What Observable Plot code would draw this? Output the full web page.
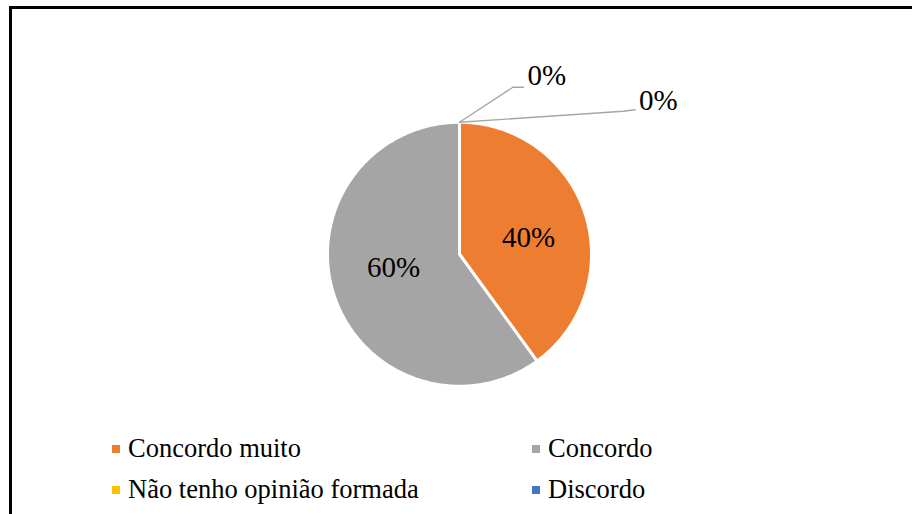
<!DOCTYPE html>
<html>
<head>
<meta charset="utf-8">
<script src="https://cdn.jsdelivr.net/npm/d3@7"></script>
<script src="https://cdn.jsdelivr.net/npm/@observablehq/plot@0.6"></script>
<style>
  html, body { margin: 0; padding: 0; background: #fff; }
  #page { position: relative; width: 912px; height: 514px; overflow: hidden; }
  .edge { position: absolute; background: #000; }
  #chart { position: absolute; left: 0; top: 0; }
  #legend { position: absolute; left: 0; top: 428px; width: 912px; height: 86px;
            font-family: 'Liberation Serif', serif; font-size: 26.5px; line-height: 41px; color: #000; }
  .item { position: absolute; white-space: nowrap; }
  .sw { display: inline-block; width: 8px; height: 8px; margin-right: 8px; vertical-align: 4.5px; }
</style>
</head>
<body>
<div id="page">
  <div id="chart"></div>
  <div id="legend"></div>
  <div class="edge" style="left:9px;top:6px;width:903px;height:3px"></div>
  <div class="edge" style="left:9px;top:6px;width:3px;height:508px"></div>
</div>
<script>
// Survey answers and their share of respondents (%)
const categories = ["Concordo muito", "Concordo", "Não tenho opinião formada", "Discordo"];
const shares = [40, 60, 0, 0];
const colors = ["#ED7D31", "#A5A5A5", "#FFC000", "#4472C4"];

// Drawing area and pie geometry (pixels)
const W = 912, H = 425;
const cx = 459, cy = 253.75, R = 132;

// Slices run clockwise from 12 o'clock; coordinates are in units of the radius
const total = d3.sum(shares);
let acc = 0;
const slices = categories.map((name, i) => {
  const a0 = acc / total * 2 * Math.PI;
  acc += shares[i];
  const a1 = acc / total * 2 * Math.PI;
  return {name, value: shares[i], a0, a1, mid: (a0 + a1) / 2};
});

const wedgePoints = slices.filter(s => s.value > 0).flatMap(s => {
  const n = Math.max(2, Math.ceil((s.a1 - s.a0) / (Math.PI / 180)));
  const arc = d3.range(n + 1).map(k => {
    const a = s.a0 + (s.a1 - s.a0) * k / n;
    return {name: s.name, x: Math.sin(a), y: Math.cos(a)};
  });
  return [{name: s.name, x: 0, y: 0}, ...arc];
});

// Labels inside the non-empty slices, a little past half the radius
const labelR = 0.53;
const innerLabels = slices.filter(s => s.value > 0).map(s => {
  const right = s.mid < Math.PI;
  return {
    text: `${s.value}%`,
    x: labelR * Math.sin(s.mid) + (right ? 0.02 : 0.004),
    y: labelR * Math.cos(s.mid) + (right ? -0.035 : 0.064)
  };
});

// Empty slices get call-outs with leader lines from their edge point
const calloutLayout = [
  {elbow: [0.405, 1.265], end: [0.485, 1.265], text: [0.515, 1.35]},
  {elbow: [1.24, 1.083], end: [1.33, 1.095], text: [1.36, 1.165]}
];
const empty = slices.filter(s => s.value === 0);
const leaderPoints = empty.flatMap((s, i) => {
  const L = calloutLayout[i];
  const p0 = {name: s.name, x: Math.sin(s.mid), y: Math.cos(s.mid)};
  return [p0, {name: s.name, x: L.elbow[0], y: L.elbow[1]}, {name: s.name, x: L.end[0], y: L.end[1]}];
});
const outerLabels = empty.map((s, i) => ({
  text: `${s.value}%`, x: calloutLayout[i].text[0], y: calloutLayout[i].text[1]
}));

const font = "Liberation Serif, serif";

const chart = Plot.plot({
  width: W,
  height: H,
  margin: 0,
  x: {domain: [-cx / R, (W - cx) / R], axis: null},
  y: {domain: [(cy - H) / R, cy / R], axis: null},
  color: {domain: categories, range: colors},
  marks: [
    Plot.line(wedgePoints, {
      x: "x", y: "y", z: "name", fill: "name",
      stroke: "white", strokeWidth: 3, curve: "linear-closed"
    }),
    Plot.line(leaderPoints, {
      x: "x", y: "y", z: "name", stroke: "#A6A6A6", strokeWidth: 1.4
    }),
    Plot.text(innerLabels, {
      x: "x", y: "y", text: "text", fontSize: 29, fontFamily: font,
      fill: "#000", textAnchor: "middle", lineAnchor: "middle"
    }),
    Plot.text(outerLabels, {
      x: "x", y: "y", text: "text", fontSize: 29, fontFamily: font,
      fill: "#000", textAnchor: "start", lineAnchor: "middle"
    })
  ]
});
document.getElementById("chart").appendChild(chart);

// Two-column legend below the pie
const legend = document.getElementById("legend");
const colLeft = [112, 532];
categories.forEach((name, i) => {
  const item = document.createElement("div");
  item.className = "item";
  item.style.left = colLeft[i % 2] + "px";
  item.style.top = (Math.floor(i / 2) * 41) + "px";
  const sw = document.createElement("span");
  sw.className = "sw";
  sw.style.background = colors[i];
  item.appendChild(sw);
  item.appendChild(document.createTextNode(name));
  legend.appendChild(item);
});
</script>
</body>
</html>
